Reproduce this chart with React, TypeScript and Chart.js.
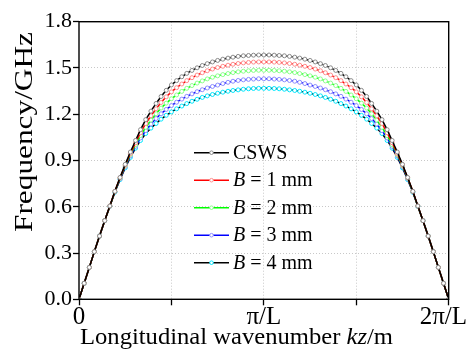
import React, { useEffect, useRef } from "react";
import { Chart, registerables } from "chart.js";

Chart.register(...registerables);

// Longitudinal wavenumber kz in units of pi/L
const kz = [
  0, 0.028, 0.056, 0.083, 0.111, 0.139, 0.167, 0.194, 0.222, 0.25, 0.278, 0.306, 0.333, 0.361, 0.389, 0.417,
  0.444, 0.472, 0.5, 0.528, 0.556, 0.583, 0.611, 0.639, 0.667, 0.694, 0.722, 0.75, 0.778, 0.806, 0.833, 0.861,
  0.889, 0.917, 0.944, 0.972, 1, 1.028, 1.056, 1.083, 1.111, 1.139, 1.167, 1.194, 1.222, 1.25, 1.278, 1.306,
  1.333, 1.361, 1.389, 1.417, 1.444, 1.472, 1.5, 1.528, 1.556, 1.583, 1.611, 1.639, 1.667, 1.694, 1.722, 1.75,
  1.778, 1.806, 1.833, 1.861, 1.889, 1.917, 1.944, 1.972, 2,
];

const cswsFreq = [
  0, 0.104, 0.207, 0.309, 0.41, 0.51, 0.605, 0.7, 0.79, 0.875, 0.955, 1.03, 1.1, 1.165, 1.22, 1.27, 1.315,
  1.355, 1.39, 1.418, 1.443, 1.465, 1.484, 1.501, 1.516, 1.528, 1.539, 1.549, 1.557, 1.564, 1.57, 1.575, 1.579,
  1.581, 1.583, 1.584, 1.584,
  1.584, 1.583, 1.581, 1.579, 1.575, 1.57, 1.564, 1.557, 1.549, 1.539, 1.528, 1.516, 1.501, 1.484, 1.465, 1.443,
  1.418, 1.39, 1.355, 1.315, 1.27, 1.22, 1.165, 1.1, 1.03, 0.955, 0.875, 0.79, 0.7, 0.605, 0.51, 0.41, 0.309,
  0.207, 0.104, 0,
];

const b1Freq = [
  0, 0.104, 0.207, 0.309, 0.41, 0.51, 0.605, 0.7, 0.788, 0.87, 0.945, 1.015, 1.08, 1.14, 1.19, 1.235, 1.276,
  1.313, 1.345, 1.372, 1.396, 1.418, 1.437, 1.454, 1.469, 1.482, 1.493, 1.503, 1.511, 1.518, 1.524, 1.529, 1.533,
  1.536, 1.538, 1.539, 1.539,
  1.539, 1.538, 1.536, 1.533, 1.529, 1.524, 1.518, 1.511, 1.503, 1.493, 1.482, 1.469, 1.454, 1.437, 1.418, 1.396,
  1.372, 1.345, 1.313, 1.276, 1.235, 1.19, 1.14, 1.08, 1.015, 0.945, 0.87, 0.788, 0.7, 0.605, 0.51, 0.41, 0.309,
  0.207, 0.104, 0,
];

const b2Freq = [
  0, 0.104, 0.207, 0.309, 0.41, 0.51, 0.604, 0.698, 0.785, 0.865, 0.938, 1.003, 1.062, 1.115, 1.162, 1.203, 1.24,
  1.272, 1.3, 1.325, 1.348, 1.368, 1.386, 1.402, 1.416, 1.429, 1.44, 1.449, 1.457, 1.464, 1.47, 1.475, 1.479,
  1.482, 1.484, 1.485, 1.485,
  1.485, 1.484, 1.482, 1.479, 1.475, 1.47, 1.464, 1.457, 1.449, 1.44, 1.429, 1.416, 1.402, 1.386, 1.368, 1.348,
  1.325, 1.3, 1.272, 1.24, 1.203, 1.162, 1.115, 1.062, 1.003, 0.938, 0.865, 0.785, 0.698, 0.604, 0.51, 0.41, 0.309,
  0.207, 0.104, 0,
];

const b3Freq = [
  0, 0.104, 0.207, 0.309, 0.41, 0.51, 0.603, 0.696, 0.78, 0.858, 0.93, 0.992, 1.046, 1.094, 1.136, 1.172, 1.203,
  1.231, 1.256, 1.278, 1.298, 1.316, 1.332, 1.346, 1.359, 1.37, 1.38, 1.389, 1.399, 1.407, 1.414, 1.419, 1.423,
  1.426, 1.428, 1.43, 1.43,
  1.43, 1.428, 1.426, 1.423, 1.419, 1.414, 1.407, 1.399, 1.389, 1.38, 1.37, 1.359, 1.346, 1.332, 1.316, 1.298,
  1.278, 1.256, 1.231, 1.203, 1.172, 1.136, 1.094, 1.046, 0.992, 0.93, 0.858, 0.78, 0.696, 0.603, 0.51, 0.41, 0.309,
  0.207, 0.104, 0,
];

const b4Freq = [
  0, 0.104, 0.207, 0.309, 0.41, 0.51, 0.603, 0.694, 0.776, 0.852, 0.92, 0.98, 1.03, 1.075, 1.11, 1.14, 1.168,
  1.193, 1.215, 1.235, 1.253, 1.269, 1.284, 1.297, 1.309, 1.319, 1.328, 1.336, 1.343, 1.349, 1.354, 1.358, 1.362,
  1.365, 1.367, 1.368, 1.368,
  1.368, 1.367, 1.365, 1.362, 1.358, 1.354, 1.349, 1.343, 1.336, 1.328, 1.319, 1.309, 1.297, 1.284, 1.269, 1.253,
  1.235, 1.215, 1.193, 1.168, 1.14, 1.11, 1.075, 1.03, 0.98, 0.92, 0.852, 0.776, 0.694, 0.603, 0.51, 0.41, 0.309,
  0.207, 0.104, 0,
];

const seriesNames = ["CSWS", "B = 1 mm", "B = 2 mm", "B = 3 mm", "B = 4 mm"];
const seriesValues = [cswsFreq, b1Freq, b2Freq, b3Freq, b4Freq];
const lineColors = ["#000000", "#ff0000", "#00ff00", "#0000ff", "#000000"];
const markerColors = ["#8a8a8a", "#ff8c8c", "#8cff8c", "#8c8cff", "#00e8ff"];

const yMin = 0;
const yMax = 1.8;
const yStep = 0.3;
const xMin = 0;
const xMax = 2;
const xTickValues = [0, 0.5, 1, 1.5, 2];
const xTickLabels = ["0", "", "π/L", "", "2π/L"];
const xTitleParts: [string, boolean][] = [
  ["Longitudinal wavenumber ", false],
  ["kz", true],
  ["/m", false],
];
const yTitleParts: [string, boolean][] = [["Frequency/GHz", false]];

const FONT = '"Liberation Serif", "Times New Roman", serif';

function drawParts(
  ctx: CanvasRenderingContext2D,
  parts: [string, boolean][],
  size: number,
  targetWidth: number
) {
  const fonts = parts.map(([, it]) => `${it ? "italic " : ""}${size}px ${FONT}`);
  let w = 0;
  parts.forEach(([t], i) => {
    ctx.font = fonts[i];
    w += ctx.measureText(t).width;
  });
  const sx = targetWidth > 0 ? targetWidth / w : 1;
  ctx.save();
  ctx.scale(sx, 1);
  let cx = 0;
  ctx.textAlign = "left";
  ctx.textBaseline = "alphabetic";
  parts.forEach(([t], i) => {
    ctx.font = fonts[i];
    ctx.fillText(t, cx, 0);
    cx += ctx.measureText(t).width;
  });
  ctx.restore();
}

const decorPlugin = {
  id: "decor",
  afterDraw(chart: any) {
    const { ctx, chartArea: ca, scales } = chart;
    ctx.save();
    // frame
    ctx.strokeStyle = "#000";
    ctx.lineWidth = 1.4;
    ctx.setLineDash([]);
    ctx.strokeRect(ca.left, ca.top, ca.right - ca.left, ca.bottom - ca.top);

    // x tick labels
    ctx.fillStyle = "#000";
    ctx.font = `25px ${FONT}`;
    ctx.textBaseline = "alphabetic";
    ctx.textAlign = "left";
    xTickValues.forEach((v, i) => {
      const label = xTickLabels[i];
      if (!label) return;
      const w = ctx.measureText(label).width;
      let x = scales.x.getPixelForValue(v) - w / 2;
      if (x + w > chart.width - 1) x = chart.width - 1 - w;
      if (x < 0) x = 0;
      ctx.fillText(label, x, 324);
    });

    // x title
    ctx.save();
    ctx.translate(80, 344);
    drawParts(ctx, xTitleParts, 23, 313);
    ctx.restore();

    // y title
    ctx.save();
    ctx.translate(32, 232);
    ctx.rotate(-Math.PI / 2);
    drawParts(ctx, yTitleParts, 25, 200);
    ctx.restore();

    // legend
    const rowY0 = 152.7;
    const rowStep = 27.5;
    seriesNames.forEach((name, i) => {
      const y = rowY0 + i * rowStep;
      ctx.strokeStyle = lineColors[i];
      ctx.lineWidth = 1.5;
      ctx.beginPath();
      ctx.moveTo(194, y);
      ctx.lineTo(229, y);
      ctx.stroke();
      ctx.beginPath();
      ctx.arc(211.5, y, 1.8, 0, Math.PI * 2);
      ctx.fillStyle = "#fff";
      ctx.fill();
      ctx.strokeStyle = markerColors[i];
      ctx.lineWidth = 1;
      ctx.stroke();
      ctx.fillStyle = "#000";
      ctx.textBaseline = "middle";
      ctx.textAlign = "left";
      let x = 233;
      if (name.startsWith("B ")) {
        ctx.font = `italic 20px ${FONT}`;
        ctx.fillText("B", x, y + 1);
        x += ctx.measureText("B").width;
        ctx.font = `20px ${FONT}`;
        ctx.fillText(name.slice(1), x, y + 1);
      } else {
        ctx.font = `20px ${FONT}`;
        ctx.fillText(name, x, y + 1);
      }
    });
    ctx.restore();
  },
};

export default function App() {
  const canvasRef = useRef<HTMLCanvasElement | null>(null);

  useEffect(() => {
    document.body.style.margin = "0";
    const canvas = canvasRef.current;
    if (!canvas) return;

    const datasets = seriesNames.map((name, i) => ({
      label: name,
      data: kz.map((x, j) => ({ x, y: seriesValues[i][j] })),
      borderColor: lineColors[i],
      borderWidth: 1.5,
      pointRadius: 2,
      pointHoverRadius: 2,
      pointBorderWidth: 1,
      pointBorderColor: markerColors[i],
      pointBackgroundColor: "#ffffff",
      fill: false,
      tension: 0,
    }));

    const isEdge = (v: number, a: number, b: number) => Math.abs(v - a) < 1e-6 || Math.abs(v - b) < 1e-6;

    const chart = new Chart(canvas, {
      type: "line",
      data: { datasets },
      plugins: [decorPlugin],
      options: {
        animation: false,
        responsive: false,
        devicePixelRatio: 1,
        layout: { padding: { top: 21.7, right: 19.3, left: 0, bottom: 0 } },
        plugins: { legend: { display: false }, tooltip: { enabled: false } },
        events: [],
        scales: {
          x: {
            type: "linear",
            min: xMin,
            max: xMax,
            afterFit: (s: any) => {
              s.height = 355 - 299.3;
              s.paddingLeft = 0;
              s.paddingRight = 0;
            },
            afterBuildTicks: (s: any) => {
              s.ticks = xTickValues.map((v) => ({ value: v }));
            },
            ticks: { display: false },
            border: { display: false, dash: [1, 2] },
            grid: {
              color: (c: any) => (isEdge(c.tick?.value ?? -1, xMin, xMax) ? "rgba(0,0,0,0)" : "#c8c8c8"),
              lineWidth: 1,
              tickLength: 6,
              tickColor: "#000",
              tickWidth: 1.3,
              tickBorderDash: [],
            },
          },
          y: {
            type: "linear",
            min: yMin,
            max: yMax,
            afterFit: (s: any) => {
              s.width = 79;
            },
            ticks: {
              stepSize: yStep,
              color: "#000",
              padding: 1,
              font: { family: FONT, size: 22 },
              callback: (v: any) => Number(v).toFixed(1),
            },
            border: { display: false, dash: [1, 2] },
            grid: {
              color: (c: any) => (isEdge(c.tick?.value ?? -1, yMin, yMax) ? "rgba(0,0,0,0)" : "#c8c8c8"),
              lineWidth: 1,
              tickLength: 6,
              tickColor: "#000",
              tickWidth: 1.3,
              tickBorderDash: [],
            },
          },
        },
      } as any,
    });

    return () => chart.destroy();
  }, []);

  return <canvas ref={canvasRef} width={468} height={355} style={{ display: "block" }} />;
}
